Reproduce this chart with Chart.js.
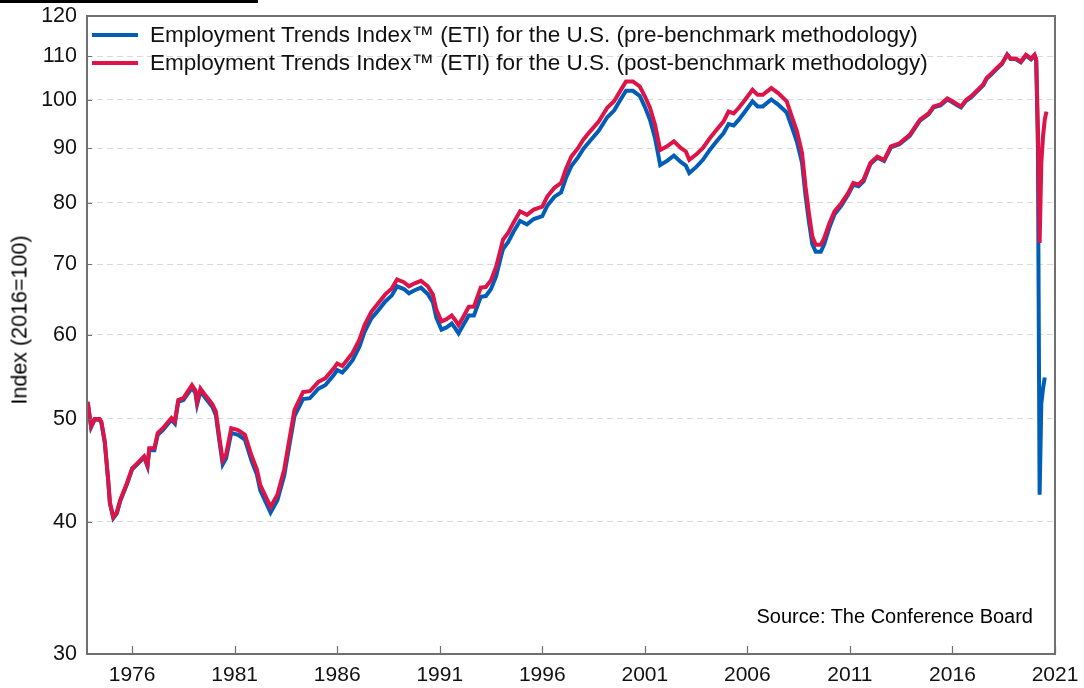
<!DOCTYPE html>
<html>
<head>
<meta charset="utf-8">
<script src="https://cdn.jsdelivr.net/npm/chart.js@4"></script>
<style>
  body { margin: 0; background: #fff; font-family: "Liberation Sans", Arial, sans-serif; }
  #wrap { position: relative; width: 1084px; height: 688px; }
  #topbar { position: absolute; left: 0; top: 0; width: 258px; height: 3px; background: #000; }
  #legend { position: absolute; left: 92px; top: 21px; font-size: 22.5px; color: #111; }
  #legend .row { display: flex; align-items: center; height: 28px; }
  #legend .swatch { width: 46px; height: 4px; margin-right: 12px; }
  #source { position: absolute; right: 51px; top: 605px; font-size: 20px; color: #000; }
  #ytitle { position: absolute; left: 20px; top: 320px; font-size: 21.5px; color: #000;
            white-space: nowrap; transform: translate(-50%, -50%) rotate(-90deg); }
</style>
</head>
<body>
<div id="wrap">
  <canvas id="etiChart" width="1084" height="688"></canvas>
  <div id="topbar"></div>
  <div id="legend"></div>
  <div id="ytitle">Index (2016=100)</div>
  <div id="source">Source: The Conference Board</div>
</div>
<script>
// months of the readings (YYYY-MM)
const dates = [
  '1973-11','1974-01','1974-03','1974-06','1974-07','1974-09','1974-11','1974-12',
  '1975-02','1975-04','1975-06','1975-10','1976-01','1976-04','1976-08','1976-10',
  '1976-11','1977-02','1977-04','1977-07','1977-12','1978-02','1978-04','1978-07',
  '1978-12','1979-02','1979-03','1979-05','1979-08','1979-12','1980-02','1980-04',
  '1980-06','1980-08','1980-11','1981-01','1981-03','1981-07','1981-11','1982-02',
  '1982-04','1982-10','1983-02','1983-06','1983-09','1983-12','1984-05','1984-09',
  '1985-02','1985-06','1985-11','1986-01','1986-04','1986-07','1986-10','1987-02',
  '1987-05','1987-09','1988-01','1988-05','1988-09','1988-12','1989-04','1989-07',
  '1989-10','1990-02','1990-06','1990-09','1990-11','1991-02','1991-05','1991-08',
  '1991-10','1991-12','1992-03','1992-06','1992-09','1993-01','1993-04','1993-07',
  '1993-10','1994-01','1994-02','1994-05','1994-08','1994-12','1995-04','1995-08',
  '1996-01','1996-04','1996-08','1996-12','1997-03','1997-06','1997-10','1998-01',
  '1998-05','1998-10','1999-03','1999-07','1999-11','2000-02','2000-06','2000-10',
  '2001-01','2001-04','2001-07','2001-10','2002-02','2002-06','2002-10','2003-01',
  '2003-03','2003-07','2003-11','2004-03','2004-07','2004-11','2005-02','2005-05',
  '2005-08','2005-11','2006-04','2006-07','2006-10','2007-03','2007-07','2007-12',
  '2008-03','2008-06','2008-09','2008-11','2009-01','2009-03','2009-05','2009-08',
  '2009-10','2010-01','2010-04','2010-08','2010-12','2011-03','2011-06','2011-09',
  '2012-01','2012-05','2012-09','2013-01','2013-06','2013-12','2014-06','2014-11',
  '2015-02','2015-06','2015-10','2016-01','2016-04','2016-06','2016-09','2016-12',
  '2017-03','2017-07','2017-09','2017-12','2018-03','2018-06','2018-09','2018-11',
  '2019-02','2019-05','2019-08','2019-11','2020-01','2020-02','2020-03','2020-04',
  '2020-05','2020-06','2020-07','2020-08'
];

// ETI, pre-benchmark methodology (blue)
const preBenchmark = [
  51.8, 49.1, 49.9, 49.9, 49.6, 47.5, 43.7, 41.6,
  40.3, 40.7, 41.8, 43.4, 44.8, 45.3, 46.0, 45.1,
  46.7, 46.7, 48.3, 48.8, 49.9, 49.5, 51.9, 52.1,
  53.5, 52.9, 51.6, 53.1, 52.3, 51.3, 50.4, 47.7,
  45.3, 45.9, 48.5, 48.4, 48.3, 47.8, 45.6, 44.3,
  42.8, 40.8, 41.9, 44.2, 47.2, 50.3, 52.2, 52.3,
  53.4, 53.8, 55.0, 55.6, 55.3, 56.0, 56.8, 58.5,
  60.4, 62.2, 63.3, 64.5, 65.4, 66.7, 66.3, 65.7,
  66.1, 66.5, 65.6, 64.4, 62.3, 60.7, 61.0, 61.5,
  60.9, 60.2, 61.4, 62.6, 62.6, 65.2, 65.3, 66.3,
  68.2, 71.3, 72.3, 73.4, 75.0, 76.9, 76.3, 77.2,
  77.7, 79.5, 81.0, 81.8, 84.5, 86.6, 88.3, 89.9,
  91.5, 93.5, 96.3, 97.7, 100.2, 102.0, 102.0, 100.9,
  98.5, 95.8, 92.0, 86.8, 87.6, 88.6, 87.4, 86.7,
  85.3, 86.4, 87.8, 89.7, 91.4, 93.0, 94.9, 94.6,
  95.8, 97.2, 99.7, 98.6, 98.6, 100.1, 99.0, 97.3,
  94.3, 91.3, 87.2, 81.3, 76.8, 73.1, 71.9, 71.9,
  73.1, 75.8, 78.0, 79.5, 81.4, 83.2, 82.9, 83.8,
  87.0, 88.2, 87.6, 90.2, 90.8, 92.5, 95.6, 96.9,
  98.4, 98.8, 100.1, 99.5, 98.8, 98.4, 99.8, 100.6,
  101.7, 103.2, 104.7, 105.8, 107.0, 108.1, 110.4, 109.3,
  109.3, 108.5, 110.1, 109.2, 110.1, 109.0, 90.0, 42.4,
  51.7, 53.4, 54.7, null
];

// ETI, post-benchmark methodology (red)
const postBenchmark = [
  51.9, 49.2, 50.0, 50.0, 49.7, 47.6, 43.8, 41.7,
  40.4, 40.8, 41.9, 43.5, 44.9, 45.4, 46.1, 45.2,
  46.9, 46.9, 48.5, 49.0, 50.1, 49.7, 52.1, 52.3,
  53.8, 53.2, 51.9, 53.4, 52.6, 51.6, 50.8, 48.1,
  45.7, 46.3, 49.0, 48.9, 48.8, 48.3, 46.1, 44.8,
  43.3, 41.3, 42.4, 44.8, 47.8, 51.0, 53.0, 53.1,
  54.2, 54.6, 55.8, 56.4, 56.1, 56.9, 57.7, 59.4,
  61.3, 63.1, 64.3, 65.5, 66.4, 67.7, 67.3, 66.7,
  67.1, 67.5, 66.7, 65.5, 63.4, 61.8, 62.1, 62.6,
  62.0, 61.3, 62.5, 63.8, 63.8, 66.5, 66.6, 67.6,
  69.6, 72.7, 73.8, 74.9, 76.5, 78.5, 77.9, 78.8,
  79.3, 81.1, 82.6, 83.5, 86.2, 88.4, 90.1, 91.7,
  93.4, 95.4, 98.3, 99.7, 102.2, 104.1, 104.1, 103.0,
  100.8, 98.3, 94.7, 89.7, 90.4, 91.4, 90.1, 89.4,
  87.8, 88.8, 90.1, 92.0, 93.7, 95.4, 97.5, 97.1,
  98.3, 99.7, 102.2, 101.1, 101.1, 102.6, 101.5, 99.7,
  96.5, 93.4, 89.1, 82.9, 78.2, 74.3, 73.0, 73.0,
  74.1, 76.5, 78.5, 79.9, 81.7, 83.5, 83.2, 84.1,
  87.2, 88.4, 87.8, 90.4, 91.0, 92.7, 95.8, 97.1,
  98.6, 99.0, 100.3, 99.7, 99.0, 98.6, 100.0, 100.8,
  101.9, 103.4, 104.9, 106.0, 107.2, 108.3, 110.3, 109.4,
  109.4, 108.7, 110.3, 109.4, 110.3, 109.2, 94.0, 73.3,
  87.2, 92.4, 95.8, 97.5
];

const yTicks = [30, 40, 50, 60, 70, 80, 90, 100, 110, 120];
const xTicks = [1976, 1981, 1986, 1991, 1996, 2001, 2006, 2011, 2016, 2021];

const seriesLabels = [
  'Employment Trends Index\u2122 (ETI) for the U.S. (pre-benchmark methodology)',
  'Employment Trends Index\u2122 (ETI) for the U.S. (post-benchmark methodology)'
];

function toYear(d) {
  const [y, m] = d.split('-').map(Number);
  return y + (m - 1) / 12;
}

function points(values) {
  return dates.map((d, i) => ({ x: toYear(d), y: values[i] }));
}

Chart.defaults.font.family = '"Liberation Sans", Arial, sans-serif';
Chart.defaults.color = '#000';

// box around the plot plus the small inward tick marks
const framePlugin = {
  id: 'frame',
  afterDraw(chart) {
    const { ctx, chartArea: a, scales } = chart;
    ctx.save();
    ctx.strokeStyle = '#707070';
    ctx.lineWidth = 2;
    ctx.strokeRect(a.left, a.top, a.right - a.left, a.bottom - a.top);
    ctx.lineWidth = 1.2;
    ctx.beginPath();
    xTicks.forEach(v => {
      const px = Math.round(scales.x.getPixelForValue(v)) + 0.5;
      ctx.moveTo(px, a.bottom);
      ctx.lineTo(px, a.bottom - 8);
    });
    yTicks.forEach(v => {
      const py = Math.round(scales.y.getPixelForValue(v)) + 0.5;
      ctx.moveTo(a.left, py);
      ctx.lineTo(a.left + 5, py);
    });
    ctx.stroke();
    ctx.restore();
  }
};

const chart = new Chart(document.getElementById('etiChart'), {
  type: 'line',
  data: {
    datasets: [
      {
        label: seriesLabels[0],
        data: points(preBenchmark),
        borderColor: '#005eb8',
        borderWidth: 4,
        pointRadius: 0,
        order: 1
      },
      {
        label: seriesLabels[1],
        data: points(postBenchmark),
        borderColor: '#dc1448',
        borderWidth: 4,
        pointRadius: 0,
        order: 0
      }
    ]
  },
  options: {
    responsive: false,
    animation: false,
    devicePixelRatio: 1,
    layout: { padding: { top: 16, right: 29, left: 0, bottom: 0 } },
    plugins: {
      legend: { display: false },
      tooltip: { enabled: false }
    },
    scales: {
      x: {
        type: 'linear',
        min: 1973.8,
        max: 2021,
        afterFit: s => {
          s.height = 34;
          s.paddingLeft = 0;
          s.paddingRight = 0;
        },
        afterBuildTicks: s => { s.ticks = xTicks.map(v => ({ value: v })); },
        grid: { display: false, drawTicks: false },
        border: { display: false },
        ticks: {
          padding: 9,
          font: { size: 21 },
          color: '#111',
          callback: v => String(v)
        }
      },
      y: {
        type: 'logarithmic',
        min: 30,
        max: 120,
        afterFit: s => {
          s.width = 87;
          s.paddingTop = 0;
          s.paddingBottom = 0;
        },
        afterBuildTicks: s => { s.ticks = yTicks.map(v => ({ value: v })); },
        grid: { color: '#d9d9d9', lineWidth: 1, drawTicks: false },
        border: { display: false, dash: [6, 4] },
        ticks: {
          padding: 10,
          font: { size: 21.5 },
          color: '#111',
          callback: v => String(v)
        }
      }
    }
  },
  plugins: [framePlugin]
});

// legend drawn as html rows, one per dataset
const legend = document.getElementById('legend');
chart.data.datasets.forEach(ds => {
  const row = document.createElement('div');
  row.className = 'row';
  const sw = document.createElement('span');
  sw.className = 'swatch';
  sw.style.background = ds.borderColor;
  const txt = document.createElement('span');
  txt.textContent = ds.label;
  row.appendChild(sw);
  row.appendChild(txt);
  legend.appendChild(row);
});
</script>
</body>
</html>
